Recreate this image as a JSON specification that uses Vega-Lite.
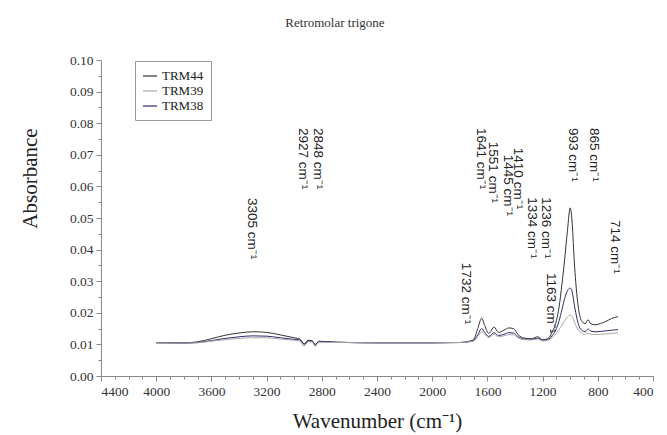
{
  "$schema": "https://vega.github.io/schema/vega-lite/v6.json",
  "width": 552,
  "height": 316,
  "autosize": {"type": "none"},
  "padding": {"left": 101, "top": 60, "right": 14, "bottom": 59},
  "background": "white",
  "title": {"text": "Retromolar trigone", "font": "Liberation Sans Narrow", "fontSize": 13, "fontWeight": "normal", "color": "#333", "anchor": "middle", "baseline": "alphabetic", "offset": 13, "dx": -42},
  "config": {"view": {"stroke": null}},
  "datasets": {
    "spectra": [
      {"wn": 4000, "s": "TRM44", "a": 0.0104}, {"wn": 4000, "s": "TRM38", "a": 0.0104}, {"wn": 4000, "s": "TRM39", "a": 0.0103},
      {"wn": 3800, "s": "TRM44", "a": 0.0105}, {"wn": 3800, "s": "TRM38", "a": 0.0104}, {"wn": 3800, "s": "TRM39", "a": 0.0104},
      {"wn": 3700, "s": "TRM44", "a": 0.0108}, {"wn": 3700, "s": "TRM38", "a": 0.0106}, {"wn": 3700, "s": "TRM39", "a": 0.0105},
      {"wn": 3600, "s": "TRM44", "a": 0.0118}, {"wn": 3600, "s": "TRM38", "a": 0.0112}, {"wn": 3600, "s": "TRM39", "a": 0.0110},
      {"wn": 3500, "s": "TRM44", "a": 0.0129}, {"wn": 3500, "s": "TRM38", "a": 0.0119}, {"wn": 3500, "s": "TRM39", "a": 0.0115},
      {"wn": 3400, "s": "TRM44", "a": 0.0136}, {"wn": 3400, "s": "TRM38", "a": 0.0124}, {"wn": 3400, "s": "TRM39", "a": 0.0119},
      {"wn": 3300, "s": "TRM44", "a": 0.0140}, {"wn": 3300, "s": "TRM38", "a": 0.0127}, {"wn": 3300, "s": "TRM39", "a": 0.0121},
      {"wn": 3200, "s": "TRM44", "a": 0.0138}, {"wn": 3200, "s": "TRM38", "a": 0.0126}, {"wn": 3200, "s": "TRM39", "a": 0.0121},
      {"wn": 3100, "s": "TRM44", "a": 0.0130}, {"wn": 3100, "s": "TRM38", "a": 0.0121}, {"wn": 3100, "s": "TRM39", "a": 0.0117},
      {"wn": 3000, "s": "TRM44", "a": 0.0121}, {"wn": 3000, "s": "TRM38", "a": 0.0116}, {"wn": 3000, "s": "TRM39", "a": 0.0113},
      {"wn": 2960, "s": "TRM44", "a": 0.0117}, {"wn": 2960, "s": "TRM38", "a": 0.0114}, {"wn": 2960, "s": "TRM39", "a": 0.0111},
      {"wn": 2927, "s": "TRM44", "a": 0.0102}, {"wn": 2927, "s": "TRM38", "a": 0.0100}, {"wn": 2927, "s": "TRM39", "a": 0.0094},
      {"wn": 2900, "s": "TRM44", "a": 0.0113}, {"wn": 2900, "s": "TRM38", "a": 0.0111}, {"wn": 2900, "s": "TRM39", "a": 0.0108},
      {"wn": 2870, "s": "TRM44", "a": 0.0112}, {"wn": 2870, "s": "TRM38", "a": 0.0110}, {"wn": 2870, "s": "TRM39", "a": 0.0108},
      {"wn": 2848, "s": "TRM44", "a": 0.0100}, {"wn": 2848, "s": "TRM38", "a": 0.0098}, {"wn": 2848, "s": "TRM39", "a": 0.0093},
      {"wn": 2820, "s": "TRM44", "a": 0.0110}, {"wn": 2820, "s": "TRM38", "a": 0.0109}, {"wn": 2820, "s": "TRM39", "a": 0.0107},
      {"wn": 2700, "s": "TRM44", "a": 0.0107}, {"wn": 2700, "s": "TRM38", "a": 0.0107}, {"wn": 2700, "s": "TRM39", "a": 0.0106},
      {"wn": 2400, "s": "TRM44", "a": 0.0105}, {"wn": 2400, "s": "TRM38", "a": 0.0105}, {"wn": 2400, "s": "TRM39", "a": 0.0105},
      {"wn": 2000, "s": "TRM44", "a": 0.0105}, {"wn": 2000, "s": "TRM38", "a": 0.0105}, {"wn": 2000, "s": "TRM39", "a": 0.0105},
      {"wn": 1800, "s": "TRM44", "a": 0.0106}, {"wn": 1800, "s": "TRM38", "a": 0.0106}, {"wn": 1800, "s": "TRM39", "a": 0.0106},
      {"wn": 1750, "s": "TRM44", "a": 0.0108}, {"wn": 1750, "s": "TRM38", "a": 0.0107}, {"wn": 1750, "s": "TRM39", "a": 0.0107},
      {"wn": 1732, "s": "TRM44", "a": 0.0110}, {"wn": 1732, "s": "TRM38", "a": 0.0109}, {"wn": 1732, "s": "TRM39", "a": 0.0108},
      {"wn": 1700, "s": "TRM44", "a": 0.0115}, {"wn": 1700, "s": "TRM38", "a": 0.0112}, {"wn": 1700, "s": "TRM39", "a": 0.0110},
      {"wn": 1670, "s": "TRM44", "a": 0.0150}, {"wn": 1670, "s": "TRM38", "a": 0.0130}, {"wn": 1670, "s": "TRM39", "a": 0.0125},
      {"wn": 1641, "s": "TRM44", "a": 0.0183}, {"wn": 1641, "s": "TRM38", "a": 0.0150}, {"wn": 1641, "s": "TRM39", "a": 0.0140},
      {"wn": 1620, "s": "TRM44", "a": 0.0160}, {"wn": 1620, "s": "TRM38", "a": 0.0138}, {"wn": 1620, "s": "TRM39", "a": 0.0132},
      {"wn": 1590, "s": "TRM44", "a": 0.0135}, {"wn": 1590, "s": "TRM38", "a": 0.0125}, {"wn": 1590, "s": "TRM39", "a": 0.0122},
      {"wn": 1551, "s": "TRM44", "a": 0.0155}, {"wn": 1551, "s": "TRM38", "a": 0.0137}, {"wn": 1551, "s": "TRM39", "a": 0.0132},
      {"wn": 1520, "s": "TRM44", "a": 0.0138}, {"wn": 1520, "s": "TRM38", "a": 0.0128}, {"wn": 1520, "s": "TRM39", "a": 0.0124},
      {"wn": 1480, "s": "TRM44", "a": 0.0145}, {"wn": 1480, "s": "TRM38", "a": 0.0132}, {"wn": 1480, "s": "TRM39", "a": 0.0127},
      {"wn": 1445, "s": "TRM44", "a": 0.0152}, {"wn": 1445, "s": "TRM38", "a": 0.0137}, {"wn": 1445, "s": "TRM39", "a": 0.0131},
      {"wn": 1410, "s": "TRM44", "a": 0.0150}, {"wn": 1410, "s": "TRM38", "a": 0.0136}, {"wn": 1410, "s": "TRM39", "a": 0.0130},
      {"wn": 1380, "s": "TRM44", "a": 0.0132}, {"wn": 1380, "s": "TRM38", "a": 0.0125}, {"wn": 1380, "s": "TRM39", "a": 0.0121},
      {"wn": 1334, "s": "TRM44", "a": 0.0120}, {"wn": 1334, "s": "TRM38", "a": 0.0117}, {"wn": 1334, "s": "TRM39", "a": 0.0115},
      {"wn": 1280, "s": "TRM44", "a": 0.0118}, {"wn": 1280, "s": "TRM38", "a": 0.0116}, {"wn": 1280, "s": "TRM39", "a": 0.0114},
      {"wn": 1236, "s": "TRM44", "a": 0.0124}, {"wn": 1236, "s": "TRM38", "a": 0.0120}, {"wn": 1236, "s": "TRM39", "a": 0.0117},
      {"wn": 1200, "s": "TRM44", "a": 0.0115}, {"wn": 1200, "s": "TRM38", "a": 0.0113}, {"wn": 1200, "s": "TRM39", "a": 0.0111},
      {"wn": 1163, "s": "TRM44", "a": 0.0118}, {"wn": 1163, "s": "TRM38", "a": 0.0115}, {"wn": 1163, "s": "TRM39", "a": 0.0113},
      {"wn": 1130, "s": "TRM44", "a": 0.0140}, {"wn": 1130, "s": "TRM38", "a": 0.0128}, {"wn": 1130, "s": "TRM39", "a": 0.0122},
      {"wn": 1100, "s": "TRM44", "a": 0.0175}, {"wn": 1100, "s": "TRM38", "a": 0.0150}, {"wn": 1100, "s": "TRM39", "a": 0.0135},
      {"wn": 1080, "s": "TRM44", "a": 0.0220}, {"wn": 1080, "s": "TRM38", "a": 0.0175}, {"wn": 1080, "s": "TRM39", "a": 0.0148},
      {"wn": 1060, "s": "TRM44", "a": 0.0290}, {"wn": 1060, "s": "TRM38", "a": 0.0210}, {"wn": 1060, "s": "TRM39", "a": 0.0160},
      {"wn": 1040, "s": "TRM44", "a": 0.0370}, {"wn": 1040, "s": "TRM38", "a": 0.0245}, {"wn": 1040, "s": "TRM39", "a": 0.0175},
      {"wn": 1020, "s": "TRM44", "a": 0.0460}, {"wn": 1020, "s": "TRM38", "a": 0.0270}, {"wn": 1020, "s": "TRM39", "a": 0.0187},
      {"wn": 1000, "s": "TRM44", "a": 0.0532}, {"wn": 1000, "s": "TRM38", "a": 0.0278}, {"wn": 1000, "s": "TRM39", "a": 0.0193},
      {"wn": 985, "s": "TRM44", "a": 0.0480}, {"wn": 985, "s": "TRM38", "a": 0.0265}, {"wn": 985, "s": "TRM39", "a": 0.0188},
      {"wn": 970, "s": "TRM44", "a": 0.0360}, {"wn": 970, "s": "TRM38", "a": 0.0225}, {"wn": 970, "s": "TRM39", "a": 0.0170},
      {"wn": 950, "s": "TRM44", "a": 0.0250}, {"wn": 950, "s": "TRM38", "a": 0.0180}, {"wn": 950, "s": "TRM39", "a": 0.0152},
      {"wn": 930, "s": "TRM44", "a": 0.0190}, {"wn": 930, "s": "TRM38", "a": 0.0152}, {"wn": 930, "s": "TRM39", "a": 0.0140},
      {"wn": 910, "s": "TRM44", "a": 0.0170}, {"wn": 910, "s": "TRM38", "a": 0.0143}, {"wn": 910, "s": "TRM39", "a": 0.0134},
      {"wn": 890, "s": "TRM44", "a": 0.0166}, {"wn": 890, "s": "TRM38", "a": 0.0140}, {"wn": 890, "s": "TRM39", "a": 0.0132},
      {"wn": 871, "s": "TRM44", "a": 0.0178}, {"wn": 871, "s": "TRM38", "a": 0.0149}, {"wn": 871, "s": "TRM39", "a": 0.0136},
      {"wn": 850, "s": "TRM44", "a": 0.0165}, {"wn": 850, "s": "TRM38", "a": 0.0142}, {"wn": 850, "s": "TRM39", "a": 0.0132},
      {"wn": 820, "s": "TRM44", "a": 0.0162}, {"wn": 820, "s": "TRM38", "a": 0.0140}, {"wn": 820, "s": "TRM39", "a": 0.0131},
      {"wn": 780, "s": "TRM44", "a": 0.0166}, {"wn": 780, "s": "TRM38", "a": 0.0141}, {"wn": 780, "s": "TRM39", "a": 0.0132},
      {"wn": 740, "s": "TRM44", "a": 0.0173}, {"wn": 740, "s": "TRM38", "a": 0.0143}, {"wn": 740, "s": "TRM39", "a": 0.0133},
      {"wn": 700, "s": "TRM44", "a": 0.0182}, {"wn": 700, "s": "TRM38", "a": 0.0145}, {"wn": 700, "s": "TRM39", "a": 0.0135},
      {"wn": 654, "s": "TRM44", "a": 0.0188}, {"wn": 654, "s": "TRM38", "a": 0.0147}, {"wn": 654, "s": "TRM39", "a": 0.0136}
    ],
    "peaks": [
      {"label": "3305 cm⁻¹", "wn": 3306, "a": 0.0563},
      {"label": "2927 cm⁻¹", "wn": 2936, "a": 0.0785},
      {"label": "2848 cm⁻¹", "wn": 2828, "a": 0.0785},
      {"label": "1732 cm⁻¹", "wn": 1755, "a": 0.0358},
      {"label": "1641 cm⁻¹", "wn": 1646, "a": 0.0785},
      {"label": "1551 cm⁻¹", "wn": 1559, "a": 0.0741},
      {"label": "1445 cm⁻¹", "wn": 1451, "a": 0.0700},
      {"label": "1410 cm⁻¹", "wn": 1378, "a": 0.0722},
      {"label": "1334 cm⁻¹", "wn": 1277, "a": 0.0566},
      {"label": "1236 cm⁻¹", "wn": 1175, "a": 0.0566},
      {"label": "1163 cm⁻¹", "wn": 1139, "a": 0.0326},
      {"label": "993 cm⁻¹", "wn": 980, "a": 0.0785},
      {"label": "865 cm⁻¹", "wn": 828, "a": 0.0785},
      {"label": "714 cm⁻¹", "wn": 675, "a": 0.0494}
    ]
  },
  "encoding": {
    "x": {
      "field": "wn", "type": "quantitative",
      "scale": {"domain": [400, 4400], "reverse": true, "nice": false, "zero": false},
      "axis": {
        "values": [400,500,600,700,800,900,1000,1100,1200,1300,1400,1500,1600,1700,1800,1900,2000,2100,2200,2300,2400,2500,2600,2700,2800,2900,3000,3100,3200,3300,3400,3500,3600,3700,3800,3900,4000,4100,4200,4300,4400],
        "format": "d",
        "labelExpr": "datum.value % 400 === 0 ? datum.label : ''",
        "tickSize": {"condition": {"test": "datum.value % 400 === 0", "value": 5}, "value": 3},
        "grid": false,
        "domainColor": "#888", "tickColor": "#888",
        "labelFont": "Liberation Serif", "labelFontSize": 13.5, "labelColor": "#333", "labelPadding": 3,
        "title": "Wavenumber (cm⁻¹)",
        "titleFont": "Liberation Serif", "titleFontSize": 21, "titleFontWeight": "normal", "titleColor": "#222",
        "titleBaseline": "alphabetic", "titleY": 51
      }
    },
    "y": {
      "field": "a", "type": "quantitative",
      "scale": {"domain": [0, 0.1], "nice": false, "zero": true},
      "axis": {
        "values": [0,0.005,0.01,0.015,0.02,0.025,0.03,0.035,0.04,0.045,0.05,0.055,0.06,0.065,0.07,0.075,0.08,0.085,0.09,0.095,0.1],
        "labelExpr": "round(datum.value*1000) % 10 === 0 ? format(datum.value, '.2f') : ''",
        "tickSize": {"condition": {"test": "round(datum.value*1000) % 10 === 0", "value": 5}, "value": 3},
        "grid": false,
        "domainColor": "#888", "tickColor": "#888",
        "labelFont": "Liberation Serif", "labelFontSize": 13.5, "labelColor": "#333", "labelPadding": 3,
        "title": "Absorbance",
        "titleFont": "Liberation Serif", "titleFontSize": 21, "titleFontWeight": "normal", "titleColor": "#222",
        "titleAngle": -90, "titleAlign": "center", "titleBaseline": "middle", "titleX": -71, "titleY": 118
      }
    }
  },
  "layer": [
    {
      "data": {"name": "spectra"},
      "mark": {"type": "line", "strokeWidth": 1, "interpolate": "monotone"},
      "encoding": {
        "color": {
          "field": "s", "type": "nominal",
          "scale": {"domain": ["TRM44", "TRM39", "TRM38"], "range": ["#333333", "#a8a8a8", "#2d2d6e"]},
          "legend": {
            "orient": "none", "legendX": 34, "legendY": 1, "title": null,
            "strokeColor": "#999", "fillColor": "white", "padding": 7,
            "symbolType": "stroke", "symbolStrokeWidth": 1.2, "symbolSize": 200,
            "labelFont": "Liberation Serif", "labelFontSize": 13, "labelColor": "#222",
            "rowPadding": 0, "labelOffset": 4
          }
        }
      }
    },
    {
      "data": {"name": "peaks"},
      "mark": {"type": "text", "angle": 90, "align": "left", "baseline": "middle", "font": "Liberation Sans", "fontSize": 13.5, "color": "#222"},
      "encoding": {"text": {"field": "label", "type": "nominal"}}
    }
  ]
}
